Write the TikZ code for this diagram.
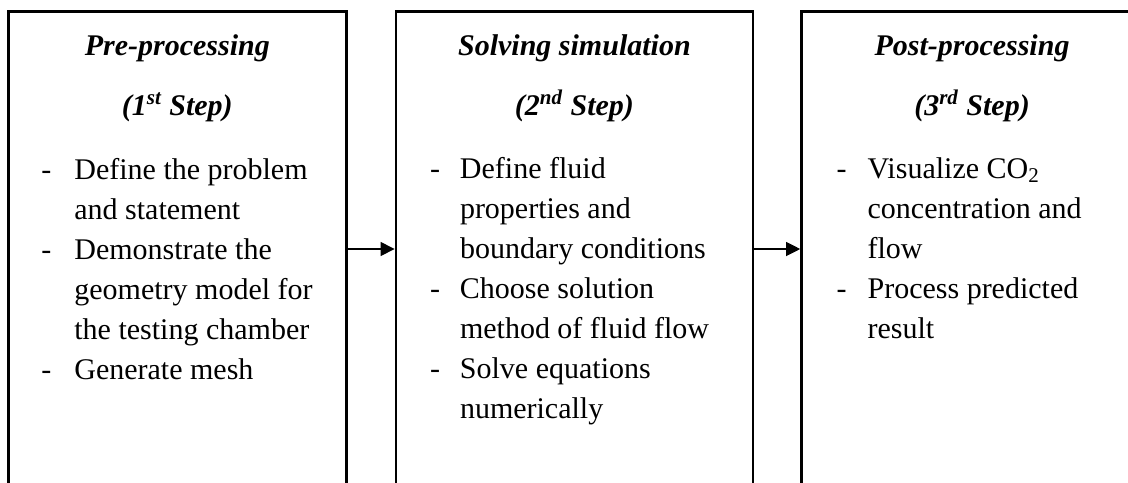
\documentclass[tikz,border=0pt]{standalone}
\usepackage{fontspec}
\setmainfont{Liberation Serif}
\usetikzlibrary{positioning,arrows.meta}

\begin{document}
\begin{tikzpicture}[
    stage/.style={rectangle, draw=black, line width=1.3pt, minimum height=250pt, inner sep=0pt},
    steptitle/.style={font=\fontsize{15pt}{20pt}\selectfont\bfseries\itshape, inner sep=0pt},
    tasks/.style={font=\fontsize{15pt}{20pt}\selectfont, inner sep=0pt},
    arrow/.style={-{Triangle[length=7pt,width=7pt]}, line width=0.55pt, draw=black},
]
    \useasboundingbox[fill=white] (0,0) rectangle (564pt,-241pt);
    \clip (0,0) rectangle (564pt,-241pt);

    % the three stages
    \node[stage, minimum width=169pt, anchor=north west] (pre) at (3.5pt,-5pt) {};
    \node[stage, minimum width=178.5pt, right=23.5pt of pre.north east, anchor=north west] (solve) {};
    \node[stage, minimum width=170.5pt, right=23pt of solve.north east, anchor=north west] (post) {};

    % headings
    \node[steptitle, below=22.5pt of pre.north, anchor=base] (pretitle)
        {\begin{tabular}[t]{@{}c@{}}Pre-processing\\[10pt](1\textsuperscript{st} Step)\end{tabular}};
    \node[steptitle, below=22.5pt of solve.north, anchor=base] (solvetitle)
        {\begin{tabular}[t]{@{}c@{}}Solving simulation\\[10pt](2\textsuperscript{nd} Step)\end{tabular}};
    \node[steptitle, below=22.5pt of post.north, anchor=base] (posttitle)
        {\begin{tabular}[t]{@{}c@{}}Post-processing\\[10pt](3\textsuperscript{rd} Step)\end{tabular}};

    % task lists
    \node[tasks, below right=84.5pt and 17pt of pre.north west, anchor=base west] (prelist)
        {\begin{tabular}[t]{@{}p{16.5pt}@{}l@{}}
        - & Define the problem\\
          & and statement\\
        - & Demonstrate the\\
          & geometry model for\\
          & the testing chamber\\
        - & Generate mesh
        \end{tabular}};
    \node[tasks, below right=84pt and 17.5pt of solve.north west, anchor=base west] (solvelist)
        {\begin{tabular}[t]{@{}p{15pt}@{}l@{}}
        - & Define fluid\\
          & properties and\\
          & boundary conditions\\
        - & Choose solution\\
          & method of fluid flow\\
        - & Solve equations\\
          & numerically
        \end{tabular}};
    \node[tasks, below right=84pt and 18pt of post.north west, anchor=base west] (postlist)
        {\begin{tabular}[t]{@{}p{15.5pt}@{}l@{}}
        - & Visualize CO\textsubscript{2}\\
          & concentration and\\
          & flow\\
        - & Process predicted\\
          & result
        \end{tabular}};

    \draw[arrow] ([yshift=-119.5pt]pre.north east) -- ([yshift=-119.5pt]solve.north west);
    \draw[arrow] ([yshift=-119.5pt]solve.north east) -- ([yshift=-119.5pt]post.north west);

\end{tikzpicture}
\end{document}
